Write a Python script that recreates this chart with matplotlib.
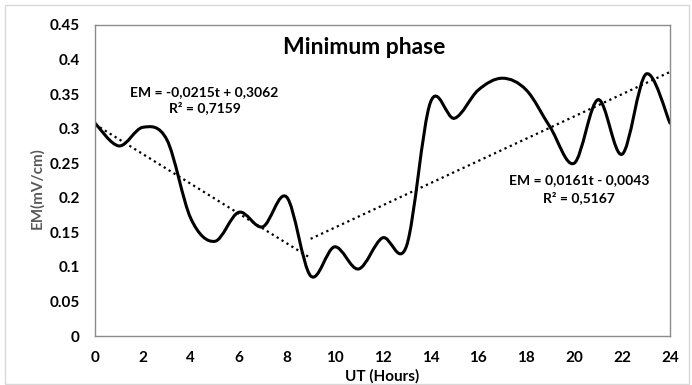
import matplotlib.pyplot as plt
import numpy as np
from matplotlib.path import Path
from matplotlib.patches import PathPatch, Rectangle

plt.rcParams['font.family'] = ['Lato', 'DejaVu Sans']

# hourly EM values (mV/cm)
hours = list(range(0, 25))
em = [0.308, 0.275, 0.302, 0.284, 0.170, 0.137, 0.179, 0.158, 0.201, 0.087,
      0.129, 0.097, 0.142, 0.130, 0.338, 0.315, 0.356, 0.373, 0.356, 0.302,
      0.250, 0.342, 0.263, 0.379, 0.308]

# linear trends: (slope, intercept, r2, t_start, t_end)
trend1 = (-0.0215, 0.3062, 0.7159, 0, 9)
trend2 = (0.0161, -0.0043, 0.5167, 9, 24)

x_ticks = list(range(0, 25, 2))
y_ticks = [0, 0.05, 0.1, 0.15, 0.2, 0.25, 0.3, 0.35, 0.4, 0.45]
y_tick_labels = ['0', '0.05', '0.1', '0.15', '0.2', '0.25', '0.3', '0.35', '0.4', '0.45']


def smooth_path(xs, ys):
    # cardinal-spline style bezier segments, like a spreadsheet smoothed line
    pts = np.column_stack([xs, ys]).astype(float)
    n = len(pts)
    verts = [pts[0]]
    codes = [Path.MOVETO]
    for i in range(n - 1):
        p0 = pts[i - 1] if i > 0 else pts[i]
        p1 = pts[i]
        p2 = pts[i + 1]
        p3 = pts[i + 2] if i + 2 < n else pts[i + 1]
        c1 = p1 + (p2 - p0) / 6
        c2 = p2 - (p3 - p1) / 6
        verts += [c1, c2, p2]
        codes += [Path.CURVE4] * 3
    return Path(verts, codes)


fig = plt.figure(figsize=(6.92, 3.85), dpi=100)
ax = fig.add_axes([95 / 692, 49 / 385, 575 / 692, 311 / 385])

ax.add_patch(PathPatch(smooth_path(hours, em), facecolor='none',
                       edgecolor='black', lw=2.2, capstyle='round'))

for slope, icpt, r2, t0, t1 in (trend1, trend2):
    tt = np.array([t0, t1])
    ax.plot(tt, slope * tt + icpt, color='black', lw=1.6, linestyle=(0, (1, 1.6)))

ax.set_xlim(0, 24)
ax.set_ylim(0, 0.45)
ax.set_xticks(x_ticks)
ax.set_yticks(y_ticks)
ax.set_yticklabels(y_tick_labels)
ax.tick_params(length=0, labelsize=11, pad=11)
for lab in ax.get_xticklabels() + ax.get_yticklabels():
    lab.set_fontweight('bold')
for sp in ax.spines.values():
    sp.set_color('#8c8c8c')
    sp.set_linewidth(1)

ax.set_xlabel('UT (Hours)', fontsize=11, fontweight='bold')
ax.xaxis.set_label_coords(0.5, -0.108)
fig.text(37 / 692, 0.5 + 4 / 385, 'EM(mV/cm)', rotation=90, ha='center', va='center',
         fontsize=11, fontweight='bold', color='#595959')

ax.text(0.468, 0.929, 'Minimum phase', transform=ax.transAxes, ha='center',
        va='center', fontsize=16.5, fontweight='bold')


def fmt(v):
    return f'{abs(v):.4f}'.replace('.', ',')


s, b, r2, _, _ = trend1
ax.text(4.55, 0.353, f'EM = -{fmt(s)}t + {fmt(b)}', ha='center', va='center',
        fontsize=10, fontweight='bold')
ax.text(4.6, 0.330, f'R² = {fmt(r2)}', ha='center', va='center',
        fontsize=10, fontweight='bold')
s, b, r2, _, _ = trend2
ax.text(20.2, 0.226, f'EM = {fmt(s)}t - {fmt(b)}', ha='center', va='center',
        fontsize=10, fontweight='bold')
ax.text(20.2, 0.200, f'R² = {fmt(r2)}', ha='center', va='center',
        fontsize=10, fontweight='bold')

fig.patches.append(Rectangle((5 / 692, 0.002), 684 / 692, 1 - 5 / 385 - 0.002,
                             transform=fig.transFigure, fill=False,
                             edgecolor='#d9d9d9', lw=1))

fig.savefig('out.png', dpi=100)
